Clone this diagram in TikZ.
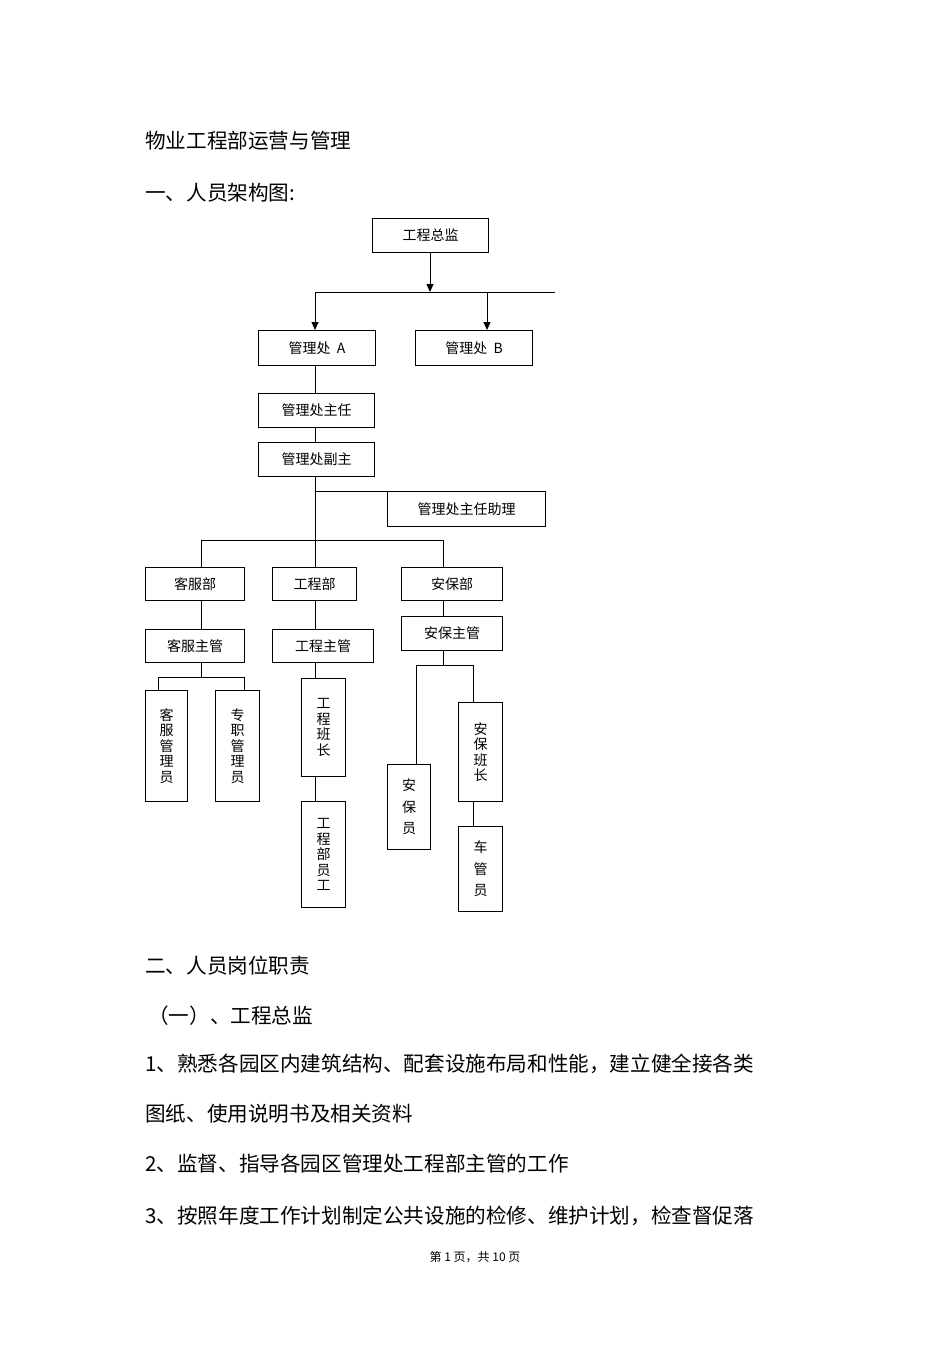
\documentclass[tikz,border=0pt]{standalone}
\usepackage{fontspec}
\newfontfamily\cjk{Noto Sans CJK SC}
\usetikzlibrary{arrows.meta}
\begin{document}
\begin{tikzpicture}[x=1pt,y=-1pt,
  bx/.style={draw,line width=1pt,inner sep=0pt,anchor=north west,font=\cjk\fontsize{14}{15.5}\selectfont,align=center},
  ln/.style={line width=1pt},
  ar/.style={line width=1pt,-{Triangle[length=8pt,width=7pt]}},
  txt/.style={anchor=west,inner sep=0pt,font=\cjk\fontsize{20.6}{22}\selectfont}]
\useasboundingbox (0,0) rectangle (950,1345);
\node[txt] (t1) at (145,141) {物业工程部运营与管理};
\node[txt] (t2) at (145,193) {一、人员架构图:};
\node[bx,minimum width=116pt,minimum height=34pt] (zj) at (372,218) {工程总监};
\coordinate (h) at (430,292);
\coordinate (hl) at (315,292);
\coordinate (hr) at (555,292);
\coordinate (hb) at (487,292);
\draw[ar] (h|-zj.south) -- (h);
\draw[ln] (hl) -- (hr);
\node[bx,minimum width=117pt,minimum height=35pt] (ga) at (258,330) {管理处\ \ A};
\node[bx,minimum width=117pt,minimum height=35pt] (gb) at (415,330) {管理处\ \ B};
\draw[ar] (hl) -- (hl|-ga.north);
\draw[ar] (hb) -- (hb|-gb.north);
\node[bx,minimum width=116pt,minimum height=34pt] (zr) at (258,393) {管理处主任};
\node[bx,minimum width=116pt,minimum height=34pt] (fz) at (258,442) {管理处副主};
\draw[ln] (hl|-ga.south) -- (hl|-zr.north);
\draw[ln] (hl|-zr.south) -- (hl|-fz.north);
\node[bx,minimum width=158pt,minimum height=35pt] (zl) at (387,491) {管理处主任助理};
\coordinate (v1) at (315,491);
\coordinate (v2) at (315,540);
\draw[ln] (v2|-fz.south) -- (v2);
\draw[ln] (v1) -- (zl.north west);
\coordinate (bl) at (201,540);
\coordinate (br) at (443,540);
\draw[ln] (bl) -- (br);
\node[bx,minimum width=99pt,minimum height=33pt] (kf) at (145,567) {客服部};
\node[bx,minimum width=84pt,minimum height=33pt] (gc) at (272,567) {工程部};
\node[bx,minimum width=101pt,minimum height=33pt] (ab) at (401,567) {安保部};
\draw[ln] (bl) -- (bl|-kf.north);
\draw[ln] (v2) -- (v2|-gc.north);
\draw[ln] (br) -- (br|-ab.north);
\node[bx,minimum width=99pt,minimum height=33pt] (kfz) at (145,629) {客服主管};
\node[bx,minimum width=101pt,minimum height=33pt] (gcz) at (272,629) {工程主管};
\node[bx,minimum width=101pt,minimum height=34pt] (abz) at (401,616) {安保主管};
\draw[ln] (bl|-kf.south) -- (bl|-kfz.north);
\draw[ln] (v2|-gc.south) -- (v2|-gcz.north);
\draw[ln] (br|-ab.south) -- (br|-abz.north);
% kefu
\node[bx,minimum width=42pt,minimum height=111pt] (kg) at (145,690) {客\\服\\管\\理\\员};
\node[bx,minimum width=44pt,minimum height=111pt] (zz) at (215,690) {专\\职\\管\\理\\员};
\coordinate (k0) at (201,677);
\coordinate (k1) at (158,677);
\coordinate (k2) at (244,677);
\draw[ln] (bl|-kfz.south) -- (k0);
\draw[ln] (k1|-kg.north) -- (k1) -- (k2) -- (k2|-zz.north);
% gongcheng
\node[bx,minimum width=44pt,minimum height=98pt] (bz) at (301,678) {工\\程\\班\\长};
\node[bx,minimum width=44pt,minimum height=106pt] (yg) at (301,801) {工\\程\\部\\员\\工};
\draw[ln] (v2|-gcz.south) -- (v2|-bz.north);
\draw[ln] (v2|-bz.south) -- (v2|-yg.north);
% anbao
\node[bx,minimum width=43pt,minimum height=85pt] (ay) at (387,764) {安\\[6pt]保\\[6pt]员};
\node[bx,minimum width=44pt,minimum height=99pt] (abb) at (458,702) {安\\保\\班\\长};
\node[bx,minimum width=44pt,minimum height=85pt] (cg) at (458,826) {车\\[6pt]管\\[6pt]员};
\coordinate (a0) at (443,665);
\coordinate (a1) at (416,665);
\coordinate (a2) at (473,665);
\draw[ln] (br|-abz.south) -- (a0);
\draw[ln] (a1|-ay.north) -- (a1) -- (a2) -- (a2|-abb.north);
\draw[ln] (a2|-abb.south) -- (a2|-cg.north);
% text
\node[txt] (t3) at (145,966) {二、人员岗位职责};
\node[txt] (t4) at (148,1016) {（一）、工程总监};
\node[txt] (t5) at (145,1064) {1、熟悉各园区内建筑结构、配套设施布局和性能，建立健全接各类};
\node[txt] (t6) at (145,1114) {图纸、使用说明书及相关资料};
\node[txt] (t7) at (145,1164) {2、监督、指导各园区管理处工程部主管的工作};
\node[txt] (t8) at (145,1216) {3、按照年度工作计划制定公共设施的检修、维护计划，检查督促落};
\node[inner sep=0pt,font=\cjk\fontsize{12}{14}\selectfont] (ft) at (475,1257) {第 1 页，共 10 页};
\end{tikzpicture}
\end{document}
